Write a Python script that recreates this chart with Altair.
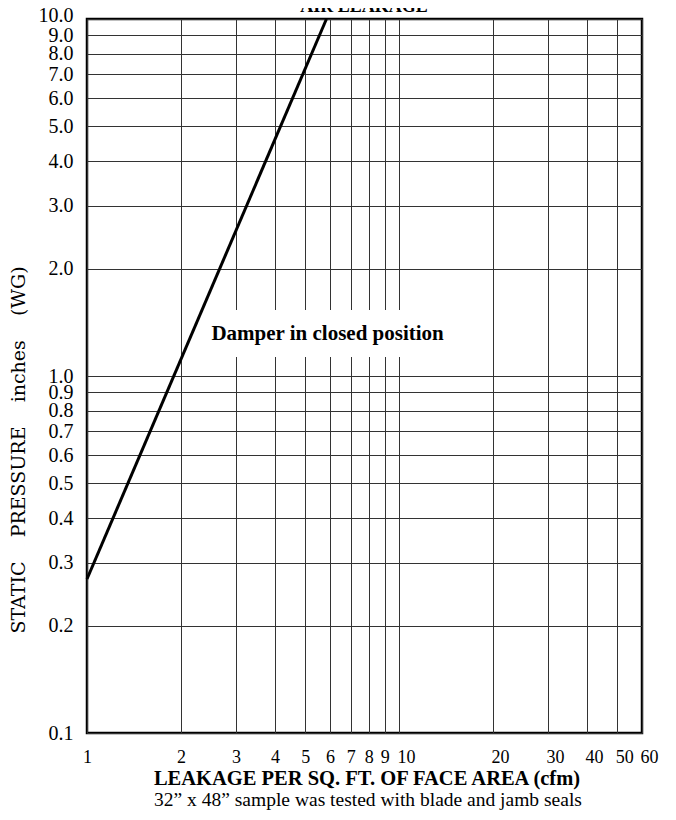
import altair as alt
import pandas as pd

# ---- data ----
x_leak = [1.0, 5.85]          # cfm per sq. ft.
y_pressure = [0.27, 10.0]     # inches WG

x_ticks = [1, 2, 3, 4, 5, 6, 7, 8, 9, 10, 20, 30, 40, 50, 60]
y_ticks = [0.1, 0.2, 0.3, 0.4, 0.5, 0.6, 0.7, 0.8, 0.9, 1.0,
           2.0, 3.0, 4.0, 5.0, 6.0, 7.0, 8.0, 9.0, 10.0]

note_text = ["Damper in closed position"]
note_x = [5.9]
note_y = [1.31]
box_x1 = [2.2]
box_x2 = [15.0]
box_y1 = [1.13]
box_y2 = [1.53]

NB = "\u00a0"
title_text = "AIR LEAKAGE"
x_title = "LEAKAGE PER SQ. FT. OF FACE AREA (cfm)"
x_sub = "32\u201d x 48\u201d sample was tested with blade and jamb seals"
y_title = ("STATIC" + NB * 4 + "PRESSURE" + NB * 4 + "inches" + NB * 4 + "(WG)")

SERIF = "Liberation Serif"

line_df = pd.DataFrame({"x": x_leak, "y": y_pressure})
note_df = pd.DataFrame({"t": note_text, "x": note_x, "y": note_y})
box_df = pd.DataFrame({"x1": box_x1, "x2": box_x2, "y1": box_y1, "y2": box_y2})

xscale = alt.Scale(type="log", domain=[1, 60], nice=False)
yscale = alt.Scale(type="log", domain=[0.1, 10], nice=False)

xaxis = alt.Axis(values=x_ticks, format="d", grid=True, gridColor="#333333",
                 gridWidth=1, domain=False, ticks=False, title=None,
                 labelFont=SERIF, labelFontSize=18, labelColor="black",
                 labelPadding=15, labelFlush=False, labelOverlap=False,
                 labelOffset={"condition": {"test": "datum.value >= 10", "value": 7},
                              "value": 0})
yaxis = alt.Axis(values=y_ticks, format=".1f", grid=True, gridColor="#333333",
                 gridWidth=1, domain=False, ticks=False, title=None,
                 labelFont=SERIF, labelFontSize=20, labelColor="black",
                 labelPadding=14, labelFlush=False, labelOverlap=False,
                 labelOffset={"condition": {"test": "datum.value >= 10", "value": -4},
                              "value": 0})

line = alt.Chart(line_df).mark_line(color="black", strokeWidth=3).encode(
    x=alt.X("x:Q", scale=xscale, axis=xaxis),
    y=alt.Y("y:Q", scale=yscale, axis=yaxis),
)

box = alt.Chart(box_df).mark_rect(color="white", opacity=1).encode(
    x=alt.X("x1:Q", scale=xscale, axis=xaxis),
    x2="x2:Q",
    y=alt.Y("y1:Q", scale=yscale, axis=yaxis),
    y2="y2:Q",
)

note = alt.Chart(note_df).mark_text(font=SERIF, fontSize=21, fontWeight="bold",
                                    color="black", align="center",
                                    baseline="middle").encode(
    x=alt.X("x:Q", scale=xscale, axis=xaxis),
    y=alt.Y("y:Q", scale=yscale, axis=yaxis),
    text="t:N",
)


def label(text, x, y, size=18, weight="normal", font=SERIF, angle=0):
    return alt.Chart(pd.DataFrame({"t": [text]})).mark_text(
        font=font, fontSize=size, fontWeight=weight, color="black",
        align="center", baseline="middle", angle=angle,
    ).encode(text="t:N", x=alt.value(x), y=alt.value(y))


top_title = alt.Chart(pd.DataFrame({"t": [title_text]})).mark_text(
    font=SERIF, fontSize=18, fontWeight="bold", color="black",
    align="center", baseline="alphabetic",
).encode(text="t:N", x=alt.value(277), y=alt.value(-7))

xt = label(x_title, 280, 760, size=20.5, weight="bold")
xs = label(x_sub, 281, 781, size=19.5)
yt = label(y_title, -68, 431, size=19, font="DejaVu Serif", angle=270)

chart = alt.layer(box, note, line, top_title, xt, xs, yt).properties(
    width=555, height=714,
    autosize=alt.AutoSizeParams(type="none"),
    padding={"left": 79, "top": 11, "right": 20, "bottom": 78},
).configure(
    background="white",
    view=alt.ViewConfig(stroke="black", strokeWidth=2.5),
)

chart.save("out.html", embed_options={"renderer": "svg", "actions": False})
